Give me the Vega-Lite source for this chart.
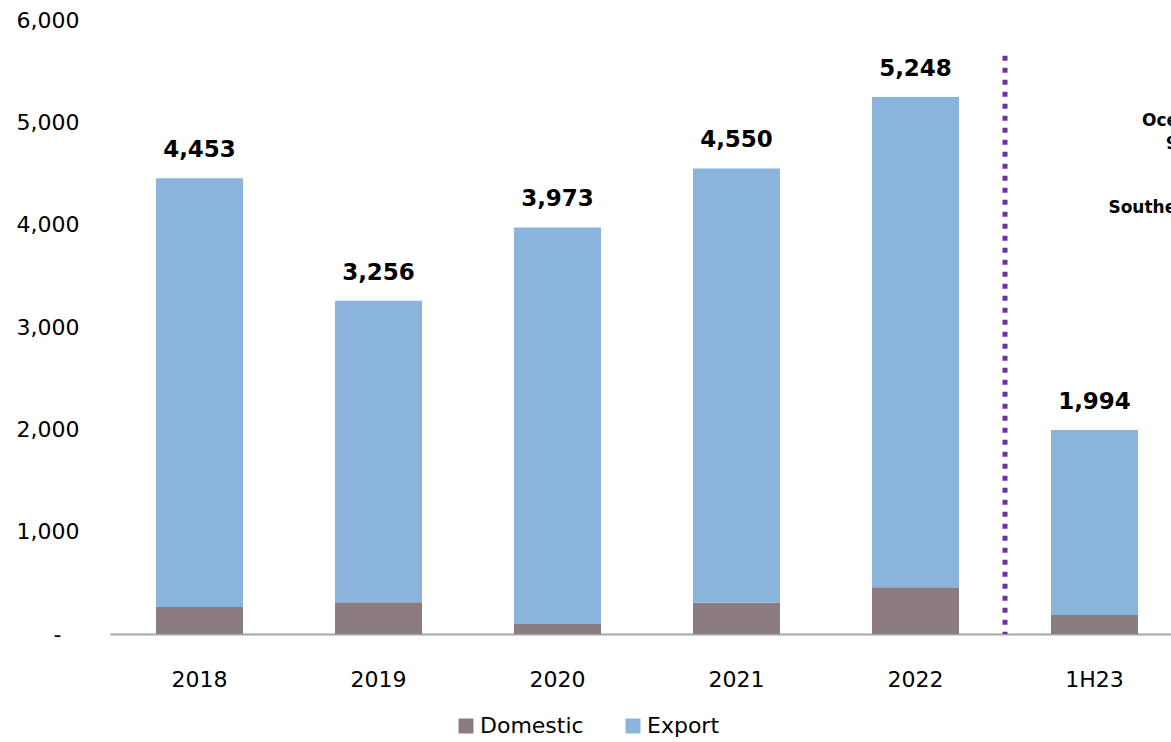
{
  "$schema": "https://vega.github.io/schema/vega-lite/v6.json",
  "autosize": {"type": "none"},
  "width": 1061,
  "height": 614,
  "padding": {"left": 110, "top": 20, "right": 0, "bottom": 108},
  "background": "white",
  "config": {"view": {"stroke": null}, "font": "DejaVu Sans"},
  "datasets": {
    "bars": [
      {"period": "2018", "segment": "Domestic", "value": 264, "ord": 1},
      {"period": "2018", "segment": "Export", "value": 4189, "ord": 2},
      {"period": "2019", "segment": "Domestic", "value": 310, "ord": 1},
      {"period": "2019", "segment": "Export", "value": 2946, "ord": 2},
      {"period": "2020", "segment": "Domestic", "value": 98, "ord": 1},
      {"period": "2020", "segment": "Export", "value": 3875, "ord": 2},
      {"period": "2021", "segment": "Domestic", "value": 306, "ord": 1},
      {"period": "2021", "segment": "Export", "value": 4244, "ord": 2},
      {"period": "2022", "segment": "Domestic", "value": 456, "ord": 1},
      {"period": "2022", "segment": "Export", "value": 4792, "ord": 2},
      {"period": "1H23", "segment": "Domestic", "value": 186, "ord": 1},
      {"period": "1H23", "segment": "Export", "value": 1808, "ord": 2}
    ],
    "totals": [
      {"period": "2018", "total": 4453},
      {"period": "2019", "total": 3256},
      {"period": "2020", "total": 3973},
      {"period": "2021", "total": 4550},
      {"period": "2022", "total": 5248},
      {"period": "1H23", "total": 1994}
    ],
    "notes": [
      {"period": "1H23", "line": "Oceania", "pos": 5010},
      {"period": "1H23", "line": "9%", "pos": 4790},
      {"period": "1H23", "line": "Southeast Asia", "pos": 4160}
    ],
    "divider": [
      {"period": "1H23", "top": 5650, "bottom": 0}
    ]
  },
  "layer": [
    {
      "data": {"name": "bars"},
      "mark": {"type": "bar", "width": {"band": 0.486}},
      "encoding": {
        "x": {
          "field": "period", "type": "nominal",
          "sort": ["2018", "2019", "2020", "2021", "2022", "1H23", "Mix"],
          "scale": {"domain": ["2018", "2019", "2020", "2021", "2022", "1H23", "Mix"], "range": [0, 1253], "paddingInner": 0, "paddingOuter": 0},
          "axis": {"title": null, "ticks": false, "labelAngle": 0, "labelFontSize": 22, "labelPadding": 35, "labelColor": "#000000", "domainColor": "#a6a6a6", "domainWidth": 2, "labelExpr": "datum.value == 'Mix' ? '' : datum.value"}
        },
        "y": {
          "field": "value", "type": "quantitative", "stack": "zero",
          "scale": {"domain": [0, 6000], "nice": false},
          "axis": {"title": null, "grid": false, "ticks": false, "domain": false, "values": [0, 1000, 2000, 3000, 4000, 5000, 6000], "labelFontSize": 22, "labelPadding": {"condition": {"test": "datum.value == 0", "value": 49}, "value": 31}, "labelColor": "#000000", "labelExpr": "datum.value == 0 ? '-' : format(datum.value, ',')"}
        },
        "color": {
          "field": "segment", "type": "nominal",
          "scale": {"domain": ["Domestic", "Export"], "range": ["#8c7c80", "#8bb4dd"]},
          "legend": {"title": null, "orient": "none", "legendX": 345, "legendY": 695, "direction": "horizontal", "symbolType": "square", "symbolSize": 225, "symbolStrokeWidth": 0, "labelFontSize": 22, "labelColor": "#000000", "columnPadding": 38, "labelOffset": 3}
        },
        "order": {"field": "ord", "type": "quantitative"}
      }
    },
    {
      "data": {"name": "totals"},
      "mark": {"type": "text", "fontWeight": "bold", "fontSize": 23, "baseline": "alphabetic", "dy": -21, "color": "#000000"},
      "encoding": {
        "x": {"field": "period", "type": "nominal", "sort": ["2018", "2019", "2020", "2021", "2022", "1H23", "Mix"]},
        "y": {"field": "total", "type": "quantitative"},
        "text": {"field": "total", "type": "quantitative", "format": ","}
      }
    },
    {
      "data": {"name": "divider"},
      "mark": {"type": "rule", "color": "#7030a0", "strokeWidth": 5, "strokeDash": [5, 7]},
      "encoding": {
        "x": {"field": "period", "type": "nominal", "bandPosition": 0, "sort": ["2018", "2019", "2020", "2021", "2022", "1H23", "Mix"]},
        "y": {"field": "top", "type": "quantitative"},
        "y2": {"field": "bottom"}
      }
    },
    {
      "data": {"name": "notes"},
      "mark": {"type": "text", "fontWeight": "bold", "fontSize": 17, "align": "center", "baseline": "middle", "color": "#000000"},
      "encoding": {
        "x": {"field": "period", "type": "nominal", "bandPosition": 0.98, "sort": ["2018", "2019", "2020", "2021", "2022", "1H23", "Mix"]},
        "y": {"field": "pos", "type": "quantitative"},
        "text": {"field": "line", "type": "nominal"}
      }
    }
  ]
}
